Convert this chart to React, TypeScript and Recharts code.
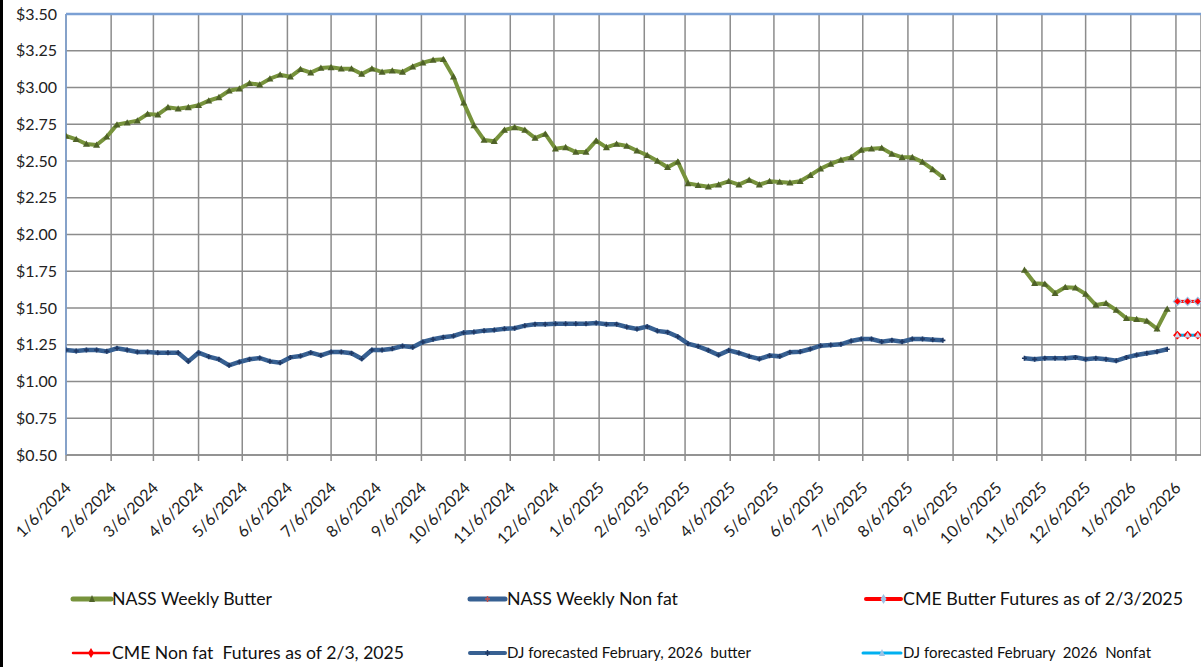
import { LineChart, Line, XAxis, YAxis, CartesianGrid, ReferenceLine } from 'recharts';

const DAY = 86400000;

// weekly series, first week-ending date + values
const NASS_START = '2024-01-06';
const nassButter = [
  2.67, 2.648, 2.616, 2.609, 2.665, 2.747, 2.761, 2.774, 2.82, 2.815,
  2.865, 2.856, 2.865, 2.879, 2.91, 2.933, 2.978, 2.992, 3.029, 3.019,
  3.06, 3.087, 3.073, 3.124, 3.101, 3.133, 3.137, 3.128, 3.128, 3.092,
  3.128, 3.105, 3.114, 3.105, 3.142, 3.169, 3.187, 3.192, 3.073, 2.897,
  2.742, 2.643, 2.634, 2.711, 2.729, 2.711, 2.656, 2.684, 2.584, 2.593,
  2.561, 2.561, 2.638, 2.593, 2.616, 2.602, 2.57, 2.539, 2.5, 2.457,
  2.495, 2.348, 2.335, 2.325, 2.339, 2.362, 2.339, 2.371, 2.339, 2.362,
  2.357, 2.352, 2.362, 2.403, 2.448, 2.48, 2.507, 2.525, 2.575, 2.584,
  2.588, 2.548, 2.525, 2.525, 2.493, 2.443, 2.389,
];
const nassNonfat = [
  1.214, 1.207, 1.214, 1.214, 1.205, 1.226, 1.214, 1.201, 1.201, 1.196,
  1.196, 1.196, 1.137, 1.196, 1.169, 1.151, 1.11, 1.133, 1.151, 1.16,
  1.137, 1.128, 1.164, 1.173, 1.196, 1.178, 1.201, 1.201, 1.192, 1.155,
  1.214, 1.214, 1.223, 1.241, 1.233, 1.269, 1.287, 1.301, 1.31, 1.332,
  1.337, 1.346, 1.35, 1.359, 1.362, 1.38, 1.389, 1.389, 1.393, 1.393,
  1.393, 1.393, 1.398, 1.389, 1.389, 1.371, 1.357, 1.373, 1.344, 1.335,
  1.305, 1.257, 1.239, 1.212, 1.18, 1.212, 1.194, 1.171, 1.153, 1.176,
  1.171, 1.199, 1.203, 1.221, 1.244, 1.248, 1.253, 1.276, 1.289, 1.289,
  1.271, 1.28, 1.271, 1.289, 1.289, 1.284, 1.28,
];

const FORECAST_START = '2025-10-25';
const forecastButter = [
  1.759, 1.668, 1.663, 1.6, 1.641, 1.638, 1.595, 1.52, 1.532, 1.486,
  1.43, 1.423, 1.412, 1.359, 1.493,
];
const forecastNonfat = [
  1.158, 1.151, 1.158, 1.158, 1.158, 1.164, 1.151, 1.158, 1.151, 1.141,
  1.164, 1.18, 1.192, 1.203, 1.219,
];

const FUTURES_START = '2026-02-07';
const cmeButter = [1.545, 1.545, 1.545, 1.545];
const cmeNonfat = [1.315, 1.315, 1.315, 1.315];
const djNonfat = [1.315, 1.315, 1.315, 1.315];

const dateTicks = [
  '2024-01-06', '2024-02-06', '2024-03-06', '2024-04-06', '2024-05-06', '2024-06-06',
  '2024-07-06', '2024-08-06', '2024-09-06', '2024-10-06', '2024-11-06', '2024-12-06',
  '2025-01-06', '2025-02-06', '2025-03-06', '2025-04-06', '2025-05-06', '2025-06-06',
  '2025-07-06', '2025-08-06', '2025-09-06', '2025-10-06', '2025-11-06', '2025-12-06',
  '2026-01-06', '2026-02-06',
];
const priceTicks = [0.5, 0.75, 1, 1.25, 1.5, 1.75, 2, 2.25, 2.5, 2.75, 3, 3.25, 3.5];

const toTime = (iso: string) => Date.parse(iso + 'T00:00:00Z');
const weekly = (start: string, values: number[]) =>
  values.map((v, i) => ({ t: toTime(start) + i * 7 * DAY, v }));

const X_MIN = toTime('2024-01-06');
const X_MAX = toTime('2026-02-23') + 0.2 * DAY;

const fmtDate = (t: number) => {
  const d = new Date(t);
  return `${d.getUTCMonth() + 1}/${d.getUTCDate()}/${d.getUTCFullYear()}`;
};

const FONT = 'Lato, "Liberation Sans", sans-serif';
const GREEN = '#77933c';
const GREEN_DARK = '#4f6228';
const BLUE = '#376092';
const BLUE_DARK = '#1f3864';
const RED = '#ff0000';
const CYAN = '#00b0f0';
const GRID = '#8c8c8c';
const FRAME_BLUE = '#7ba0d4';

const DateTick = ({ x, y, payload }: any) => {
  const ax = x + 6;
  const ay = y + 26;
  return (
    <text
      x={ax}
      y={ay}
      transform={`rotate(-45 ${ax} ${ay})`}
      textAnchor="end"
      fontSize={16}
      fontFamily={FONT}
      fill="#222"
    >
      {fmtDate(payload.value)}
    </text>
  );
};

const triangle = (color: string, s = 3.5) => (p: any) => {
  if (p.cx == null || p.cy == null) return <g key={`n${p.index}`} />;
  const { cx, cy } = p;
  return (
    <polygon
      key={`t${p.index}`}
      points={`${cx},${cy - s} ${cx + s},${cy + s * 0.8} ${cx - s},${cy + s * 0.8}`}
      fill={color}
    />
  );
};

const star = (color: string) => (p: any) => {
  if (p.cx == null || p.cy == null) return <g key={`n${p.index}`} />;
  const { cx, cy } = p;
  return (
    <path
      key={`s${p.index}`}
      d={`M${cx - 2.5},${cy}L${cx + 2.5},${cy}M${cx},${cy - 2.5}L${cx},${cy + 2.5}`}
      stroke={color}
      strokeWidth={1.6}
    />
  );
};

const diamond = (fill: string, stroke: string, s = 4) => (p: any) => {
  if (p.cx == null || p.cy == null) return <g key={`n${p.index}`} />;
  const { cx, cy } = p;
  return (
    <polygon
      key={`dm${p.index}`}
      points={`${cx},${cy - s} ${cx + s},${cy} ${cx},${cy + s} ${cx - s},${cy}`}
      fill={fill}
      stroke={stroke}
      strokeWidth={1.2}
    />
  );
};

const legendRows = [
  { y: 599, x0: 73, x1: 111, color: GREEN, w: 5, mark: 'tri', mc: GREEN_DARK, label: 'NASS Weekly Butter', tx: 112, len: 160, fs: 18 },
  { y: 599, x0: 470, x1: 505, color: BLUE, w: 5, mark: 'star', mc: '#c0504d', label: 'NASS Weekly Non fat', tx: 507, len: 171, fs: 18 },
  { y: 599, x0: 866, x1: 901, color: RED, w: 4, mark: 'dia', mc: '#9dc3e6', label: 'CME Butter Futures as of 2/3/2025', tx: 903, len: 280, fs: 18 },
  { y: 653, x0: 73, x1: 109, color: RED, w: 2.5, mark: 'dia', mc: RED, label: 'CME Non fat  Futures as of 2/3, 2025', tx: 112, len: 292, fs: 18 },
  { y: 653, x0: 470, x1: 505, color: BLUE, w: 4, mark: 'star', mc: BLUE_DARK, label: 'DJ forecasted February, 2026  butter', tx: 507, len: 244, fs: 15 },
  { y: 653, x0: 863, x1: 901, color: CYAN, w: 3, mark: 'tri', mc: '#9dc3e6', label: 'DJ forecasted February  2026  Nonfat', tx: 903, len: 248, fs: 15 },
];

function ChartLegend() {
  return (
    <svg width={1201} height={667} style={{ position: 'absolute', left: 0, top: 0, pointerEvents: 'none' }}>
      {legendRows.map((r) => {
        const cx = (r.x0 + r.x1) / 2;
        return (
          <g key={r.label}>
            <line x1={r.x0} x2={r.x1} y1={r.y} y2={r.y} stroke={r.color} strokeWidth={r.w} strokeLinecap="round" />
            {r.mark === 'tri' && (
              <polygon points={`${cx},${r.y - 4} ${cx + 3},${r.y + 3} ${cx - 3},${r.y + 3}`} fill={r.mc} />
            )}
            {r.mark === 'star' && (
              <path d={`M${cx - 2.5},${r.y}L${cx + 2.5},${r.y}M${cx},${r.y - 3}L${cx},${r.y + 3}`} stroke={r.mc} strokeWidth={1.5} />
            )}
            {r.mark === 'dia' && (
              <polygon points={`${cx},${r.y - 5} ${cx + 3},${r.y} ${cx},${r.y + 5} ${cx - 3},${r.y}`} fill={r.mc} />
            )}
            <text
              x={r.tx}
              y={r.y + r.fs * 0.36}
              fontSize={r.fs}
              fontFamily={FONT}
              fill="#111"
              textLength={r.len}
              lengthAdjust="spacingAndGlyphs"
              style={{ whiteSpace: 'pre' }}
            >
              {r.label}
            </text>
          </g>
        );
      })}
    </svg>
  );
}

export default function App() {
  return (
    <div
      style={{
        position: 'absolute',
        left: 0,
        top: 0,
        width: 1201,
        height: 667,
        overflow: 'hidden',
        background: '#fff',
        fontFamily: FONT,
      }}
    >
      <div style={{ position: 'absolute', left: 0, top: 0, width: 3, height: 667, background: '#000' }} />
      <LineChart width={1201} height={667} margin={{ top: 14, right: 0, left: 0, bottom: 152 }}>
        <CartesianGrid stroke={GRID} strokeWidth={1.5} />
        <XAxis
          type="number"
          dataKey="t"
          domain={[X_MIN, X_MAX]}
          ticks={dateTicks.map(toTime)}
          interval={0}
          allowDataOverflow
          height={60}
          tickSize={6}
          tickLine={{ stroke: GRID, strokeWidth: 1.5 }}
          axisLine={{ stroke: GRID, strokeWidth: 1.5 }}
          tick={<DateTick />}
        />
        <YAxis
          type="number"
          domain={[0.5, 3.5]}
          ticks={priceTicks}
          interval={0}
          width={66}
          tickLine={false}
          tickSize={0}
          tickMargin={9}
          axisLine={{ stroke: FRAME_BLUE, strokeWidth: 1.5 }}
          tickFormatter={(v: number) => `$${v.toFixed(2)}`}
          tick={{ fontSize: 16, fontFamily: FONT, fill: '#222' }}
        />
        <ReferenceLine y={3.5} stroke={FRAME_BLUE} strokeWidth={2.5} />

        <Line
          data={weekly(NASS_START, nassNonfat)}
          dataKey="v"
          stroke={BLUE}
          strokeWidth={4.5}
          dot={star(BLUE_DARK)}
          isAnimationActive={false}
        />
        <Line
          data={weekly(FORECAST_START, forecastNonfat)}
          dataKey="v"
          stroke={BLUE}
          strokeWidth={4.5}
          dot={star(BLUE_DARK)}
          isAnimationActive={false}
        />
        <Line
          data={weekly(NASS_START, nassButter)}
          dataKey="v"
          stroke={GREEN}
          strokeWidth={4}
          dot={triangle(GREEN_DARK)}
          isAnimationActive={false}
        />
        <Line
          data={weekly(FORECAST_START, forecastButter)}
          dataKey="v"
          stroke={GREEN}
          strokeWidth={4}
          dot={triangle(GREEN_DARK)}
          isAnimationActive={false}
        />
        <Line
          data={weekly(FUTURES_START, cmeButter)}
          dataKey="v"
          stroke={RED}
          strokeWidth={3}
          dot={diamond(RED, '#9dc3e6')}
          isAnimationActive={false}
        />
        <Line
          data={weekly(FUTURES_START, cmeNonfat)}
          dataKey="v"
          stroke={RED}
          strokeWidth={2}
          dot={diamond(RED, RED, 3.5)}
          isAnimationActive={false}
        />
        <Line
          data={weekly(FUTURES_START, djNonfat)}
          dataKey="v"
          stroke={CYAN}
          strokeWidth={3}
          dot={triangle('#c6d9f1', 3)}
          isAnimationActive={false}
        />
      </LineChart>
      <ChartLegend />
    </div>
  );
}
